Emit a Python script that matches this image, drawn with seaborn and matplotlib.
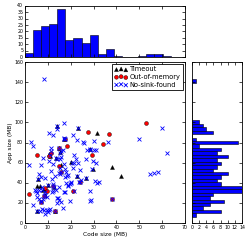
#!/usr/bin/env python3
"""Code size vs. app size scatter with marginal histograms."""

import matplotlib
import numpy as np
import seaborn as sns

matplotlib.use("Agg")
import matplotlib.pyplot as plt
from matplotlib.ticker import MultipleLocator

# Timeout (black triangles)
timeout_x = [31.4, 37.9, 42.0, 28.3, 6.6, 5.2, 23.0, 29.6, 26.5, 22.9, 5.8,
             14.1, 13.5, 15.6, 15.5, 14.8, 17.2, 20.3, 9.0, 8.5, 10.2, 12.7,
             13.0, 5.5, 11.0, 10.6, 8.0]
timeout_y = [89.5, 55.4, 46.7, 73.5, 36.6, 37.0, 94.1, 53.5, 45.0, 46.9, 43.5,
             96.7, 65.0, 58.0, 70.5, 75.0, 84.0, 60.5, 28.0, 33.5, 37.5, 36.0,
             12.5, 12.5, 67.0, 68.5, 33.0]

# Out-of-memory (red circles)
oom_x = [52.9, 27.4, 36.6, 34.3, 29.5, 18.2, 17.4, 5.1, 11.5, 10.6, 15.0,
         15.0, 15.8, 37.9, 24.0, 21.1, 1.9, 6.9, 9.0, 9.5, 12.5, 13.0, 8.5]
oom_y = [99.7, 90.8, 88.5, 78.5, 68.0, 76.5, 83.2, 67.6, 69.5, 67.0, 75.0,
         56.5, 50.4, 23.6, 41.0, 31.8, 28.8, 21.2, 35.0, 32.0, 36.5, 12.0, 27.0]

# No-sink-found (blue crosses)
nosink_x = [8.3, 59.8, 49.9, 62.0, 56.4, 58.0, 54.5, 36.2, 30.3, 31.0, 30.0,
            28.3, 27.0, 25.5, 26.0, 22.6, 21.5, 20.9, 23.2, 17.1, 16.9, 17.1,
            14.0, 14.1, 10.5, 12.5, 2.5, 3.6, 1.75, 7.1, 6.0, 7.0, 9.0, 8.0,
            11.5, 11.5, 10.5, 14.0, 14.8, 16.0, 16.5, 15.5, 15.5, 12.5, 16.9,
            15.5, 16.0, 15.0, 17.5, 17.8, 18.5, 17.5, 20.4, 21.5, 22.5, 21.0,
            23.0, 26.5, 29.8, 31.2, 29.5, 30.5, 31.5, 32.5, 28.5, 28.5, 29.0,
            37.9, 24.0, 24.5, 21.5, 19.0, 19.5, 18.0, 19.0, 20.0, 17.5, 17.0,
            19.5, 16.5, 16.0, 14.0, 14.5, 15.0, 14.0, 13.8, 15.0, 12.5, 12.5,
            12.7, 13.0, 8.5, 9.5, 10.5, 11.0, 9.0, 10.0, 7.5, 6.5, 5.5, 3.5,
            5.0, 5.5, 6.0, 4.5, 5.5, 6.0, 6.9, 7.0, 8.0, 8.5, 9.0, 9.5, 9.0,
            7.5, 10.0, 12.0, 12.5, 7.5, 22.9, 26.5, 28.3, 13.5, 5.8, 17.4,
            11.0, 20.0, 23.5, 15.2, 24.0, 19.0, 11.5, 13.0, 16.0, 12.0]
nosink_y = [142.8, 94.7, 83.2, 69.9, 49.4, 50.7, 48.5, 80.2, 81.8, 72.5, 73.0,
            73.5, 72.5, 80.5, 79.8, 82.5, 68.0, 87.8, 94.1, 99.0, 85.0, 83.2,
            93.4, 96.7, 89.2, 87.2, 80.8, 76.5, 57.3, 57.6, 48.5, 46.0, 45.0,
            64.3, 74.5, 72.0, 62.0, 64.0, 75.0, 72.0, 72.5, 70.0, 63.5, 58.5,
            58.6, 49.0, 51.0, 49.5, 53.5, 51.0, 47.0, 46.0, 60.0, 59.5, 64.0,
            55.0, 60.0, 64.0, 62.0, 59.5, 53.5, 42.0, 40.0, 41.0, 31.5, 22.0,
            22.5, 23.6, 41.0, 43.0, 32.0, 38.0, 39.0, 40.0, 36.5, 40.5, 30.5,
            31.0, 21.5, 15.0, 21.0, 20.0, 25.0, 22.5, 24.5, 33.0, 35.5, 37.0,
            38.5, 36.0, 12.0, 13.5, 13.0, 13.5, 14.0, 9.5, 11.0, 14.0, 12.5,
            12.0, 18.0, 32.0, 30.0, 32.5, 33.0, 26.0, 24.0, 21.2, 22.0, 24.0,
            26.5, 27.5, 26.0, 31.0, 33.0, 37.5, 31.0, 32.0, 36.0, 47.0, 45.0,
            73.0, 65.0, 43.5, 83.2, 67.5, 40.0, 40.5, 55.0, 53.0, 48.0, 52.0,
            47.0, 66.0, 44.0]

# Marginal histogram of code size (counts per bin)
code_size_edges = np.linspace(0.0, 63.7, 19)
code_size_counts = [3, 21, 24, 26, 38, 13, 15, 11, 17, 2, 6, 1, 0, 0, 1, 2, 2, 1]

# Marginal histogram of app size (counts per bin)
app_size_edges = np.linspace(6.3, 143.0, 41)
app_size_counts = [1, 8, 3, 5, 9, 5, 6, 14, 14, 8, 7, 8, 10, 6, 7, 8, 7, 10,
                   7, 8, 2, 13, 1, 0, 6, 4, 3, 2,
                   0, 0, 0, 0, 0, 0, 0, 0, 0, 0, 0, 1]

plt.style.use("classic")
plt.rcParams.update({
    "figure.facecolor": "white",
    "savefig.facecolor": "white",
    "font.family": ["DejaVu Sans"],
    "xtick.labelsize": 3.4,
    "ytick.labelsize": 3.4,
    "xtick.major.size": 2.2,
    "ytick.major.size": 2.2,
    "xtick.minor.size": 0,
    "ytick.minor.size": 0,
    "xtick.major.pad": 1.5,
    "ytick.major.pad": 1.2,
    "axes.linewidth": 0.6,
    "xtick.major.width": 0.5,
    "ytick.major.width": 0.5,
})

fig = plt.figure(figsize=(2.49, 2.49), dpi=100)
ax_main = fig.add_axes([0.100, 0.104, 0.643, 0.647])
ax_top = fig.add_axes([0.100, 0.771, 0.643, 0.205], sharex=ax_main)
ax_right = fig.add_axes([0.771, 0.104, 0.201, 0.647], sharey=ax_main)

sns.scatterplot(x=timeout_x, y=timeout_y, marker="^", color="k", s=8,
                edgecolor="k", linewidth=0.3, label="Timeout", ax=ax_main)
sns.scatterplot(x=oom_x, y=oom_y, marker="o", color="#ff0000", s=8,
                edgecolor="k", linewidth=0.3, label="Out-of-memory", ax=ax_main)
sns.scatterplot(x=nosink_x, y=nosink_y, marker="x", color="#0000ff", s=8,
                linewidth=0.6, label="No-sink-found", ax=ax_main)

ax_main.set_xlim(0, 70)
ax_main.set_ylim(0, 160)
ax_main.xaxis.set_major_locator(MultipleLocator(10))
ax_main.yaxis.set_major_locator(MultipleLocator(20))
ax_main.set_xlabel("Code size (MB)", fontsize=4.2, labelpad=1)
ax_main.set_ylabel("App size (MB)", fontsize=4.2, labelpad=1)
leg = ax_main.legend(loc="upper right", scatterpoints=3, fontsize=4.8,
                     frameon=True, fancybox=False, borderpad=0.3,
                     handletextpad=0.3, handlelength=2.0, labelspacing=0.25,
                     borderaxespad=0.35)
leg.get_frame().set_linewidth(0.6)

ax_top.bar(code_size_edges[:-1], code_size_counts, width=np.diff(code_size_edges),
           align="edge", color="#0000ff", edgecolor="k", linewidth=0.4)
ax_top.set_ylim(0, 40)
ax_top.yaxis.set_major_locator(MultipleLocator(5))
ax_top.tick_params(axis="x", labelbottom=False)

ax_right.barh(app_size_edges[:-1], app_size_counts, height=np.diff(app_size_edges),
              align="edge", color="#0000ff", edgecolor="k", linewidth=0.4)
ax_right.set_xlim(0, 14)
ax_right.xaxis.set_major_locator(MultipleLocator(2))
ax_right.tick_params(axis="y", labelleft=False)

ax_main.set_xlim(0, 70)
ax_main.set_ylim(0, 160)

fig.savefig("out.png", dpi=100)
